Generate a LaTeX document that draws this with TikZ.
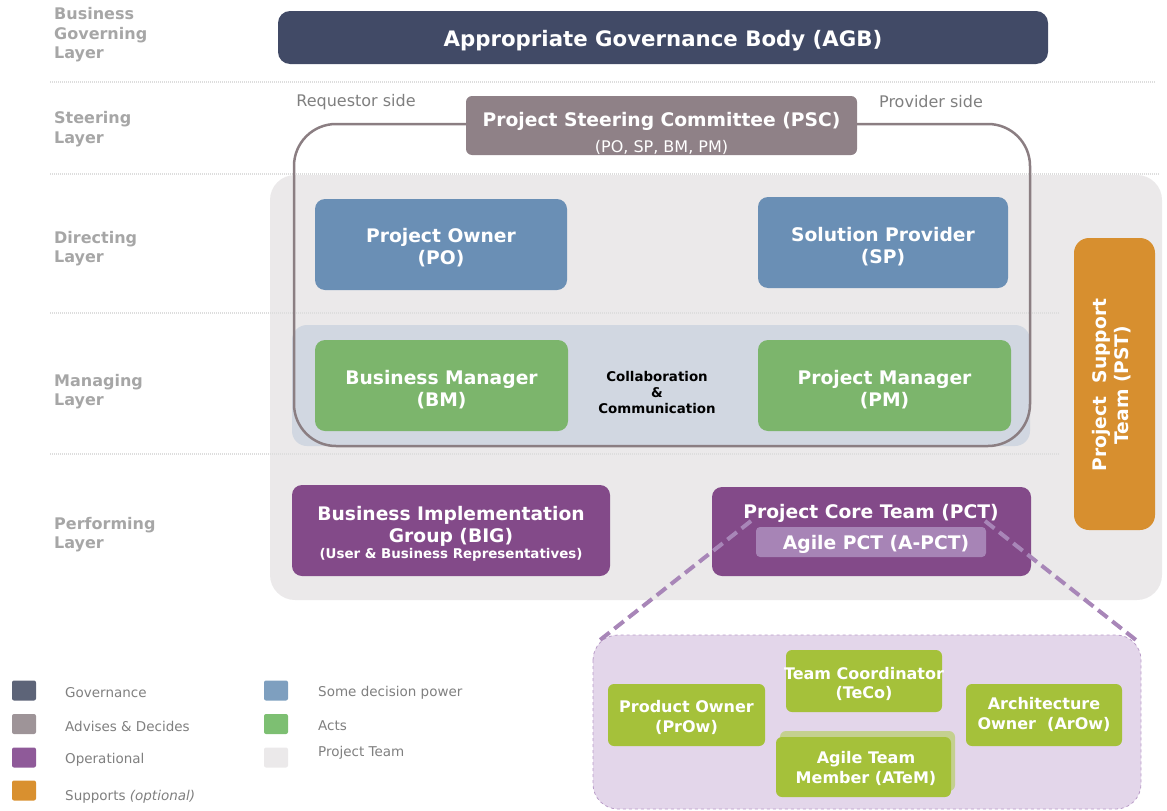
\documentclass[tikz,border=0pt]{standalone}
\usepackage{fontspec}
\setmainfont{DejaVu Sans}
\definecolor{agbc}{HTML}{414A66}
\definecolor{pscc}{HTML}{8F8187}
\definecolor{outl}{HTML}{8B7E82}
\definecolor{bluec}{HTML}{6A8FB5}
\definecolor{greenc}{HTML}{7CB56C}
\definecolor{bandc}{HTML}{D1D7E1}
\definecolor{teamc}{HTML}{EBE9EA}
\definecolor{orangec}{HTML}{D78F2F}
\definecolor{purplec}{HTML}{834A89}
\definecolor{lpurple}{HTML}{A784B6}
\definecolor{zoomc}{HTML}{E3D6EA}
\definecolor{zoomb}{HTML}{B99CC8}
\definecolor{dashc}{HTML}{A886B8}
\definecolor{limec}{HTML}{A5C13A}
\definecolor{limeb}{HTML}{C4D08F}
\definecolor{laygray}{HTML}{A6A6A6}
\definecolor{txtgray}{HTML}{7F7F7F}
\definecolor{sepgray}{HTML}{DDDDDD}
\definecolor{lgov}{HTML}{5D6478}
\definecolor{ladv}{HTML}{9E9498}
\definecolor{lops}{HTML}{8F5A99}
\definecolor{lsup}{HTML}{D9902F}
\definecolor{ldec}{HTML}{7E9FBF}
\definecolor{lact}{HTML}{7DBF72}
\begin{document}
\begin{tikzpicture}[x=1pt,y=-1pt,
  box/.style={rounded corners=10pt, inner sep=0pt},
  btxt/.style={text=white, align=center, inner sep=0pt,
    font=\bfseries\fontsize{18.7}{22}\selectfont},
  gtxt/.style={text=white, align=center, inner sep=0pt,
    font=\bfseries\fontsize{16}{19.5}\selectfont},
  lbox/.style={rounded corners=6pt, inner sep=0pt},
  layer/.style={anchor=west, align=left, text=laygray, inner sep=0pt,
    font=\bfseries\fontsize{16}{19.5}\selectfont},
  sepline/.style={sepgray, line width=1.5pt, dash pattern=on 1pt off 1pt},
  legsq/.style={rounded corners=2pt, minimum width=24pt, minimum height=20pt, inner sep=0pt},
  legtxt/.style={anchor=west, text=txtgray, inner sep=0pt, font=\fontsize{13.5}{16}\selectfont},
  side/.style={text=txtgray, inner sep=0pt, font=\fontsize{16}{19}\selectfont},
  zoomline/.style={dashc, line width=4pt, dash pattern=on 12pt off 6pt},
]
\useasboundingbox (0,0) rectangle (1167,811);

% project team background
\fill[teamc, rounded corners=25pt] (270,175) rectangle (1162,600);

% separators
\draw[sepline] (50,82) -- (1155,82);
\draw[sepline] (50,174) -- (1160,174);
\draw[sepline] (50,313) -- (1060,313);
\draw[sepline] (50,454) -- (1060,454);

% layer labels
\node[layer] (l1) at (54,35) {Business\\Governing\\Layer};
\node[layer] (l2) at (54,129) {Steering\\Layer};
\node[layer] (l3) at (54,248.5) {Directing\\Layer};
\node[layer] (l4) at (54,391.5) {Managing\\Layer};
\node[layer] (l5) at (54,534.5) {Performing\\Layer};

% managing band
\fill[bandc, rounded corners=15pt] (292,325) rectangle (1030,446);

% PSC outline
\draw[outl, line width=2.5pt, rounded corners=42pt] (294,124) rectangle (1030,446);

% AGB
\node[box, fill=agbc, minimum width=770pt, minimum height=53pt, rounded corners=12pt] (agb) at (663,37.5) {};
\node[btxt, font=\bfseries\fontsize{21.3}{25}\selectfont] (agbt) at (663,40.5) {Appropriate Governance Body (AGB)};

% sides
\node[side] (req) at (356,102) {Requestor side};
\node[side] (prov) at (931,102) {Provider side};

% PSC
\node[box, fill=pscc, minimum width=391pt, minimum height=59pt, rounded corners=6pt] (psc) at (661.5,125.5) {};
\node[btxt] (psct) at (661.5,121) {Project Steering Committee (PSC)};
\node[text=white, inner sep=0pt, font=\fontsize{16}{19}\selectfont] (pscs) at (661.5,147.5) {(PO, SP, BM, PM)};

% directing
\node[box, fill=bluec, minimum width=252pt, minimum height=91pt] (po) at (441,244.5) {};
\node[btxt] (pot) at (441,248) {Project Owner\\(PO)};
\node[box, fill=bluec, minimum width=250pt, minimum height=91pt] (sp) at (883,242.5) {};
\node[btxt] (spt) at (883,246.5) {Solution Provider\\(SP)};

% managing
\node[box, fill=greenc, minimum width=253pt, minimum height=91pt] (bm) at (441.5,385.5) {};
\node[btxt] (bmt) at (441.5,390) {Business Manager\\(BM)};
\node[box, fill=greenc, minimum width=253pt, minimum height=91pt] (pm) at (884.5,385.5) {};
\node[btxt] (pmt) at (884.5,390) {Project Manager\\(PM)};
\node[align=center, inner sep=0pt, font=\bfseries\fontsize{13.4}{16}\selectfont] (cc) at (657,392) {Collaboration\\\&\\Communication};

% PST
\node[box, fill=orangec, minimum width=81pt, minimum height=292pt, rounded corners=15pt] (pst) at (1114.5,384) {};
\node[btxt, rotate=90] (pstt) at (1112,385) {Project\ \ Support\\Team (PST)};

% performing
\node[box, fill=purplec, minimum width=318pt, minimum height=91pt] (big) at (451,530.5) {};
\node[btxt] (bigt) at (451,526) {Business Implementation\\Group (BIG)};
\node[text=white, inner sep=0pt, font=\bfseries\fontsize{13.4}{16}\selectfont] (bigs) at (451,555) {(User \& Business Representatives)};

\node[box, fill=purplec, minimum width=319pt, minimum height=89pt] (pct) at (871.5,531.5) {};
\node[btxt] (pctt) at (871,513) {Project Core Team (PCT)};

% zoom box
\draw[zoomb, fill=zoomc, dashed, line width=0.8pt, rounded corners=25pt] (593,635) rectangle (1141,809);
\coordinate (zl) at (600,640);
\coordinate (zr) at (1136,640);
\coordinate (pl) at (751,521);
\coordinate (pr) at (985,521);
\draw[zoomline] (pl) -- (zl);
\draw[zoomline] (pr) -- (zr);

\node[box, fill=lpurple, minimum width=230pt, minimum height=30pt, rounded corners=4pt] (apct) at (871,542) {};
\node[btxt] (apctt) at (876,544) {Agile PCT (A-PCT)};

% agile team
\node[lbox, fill=limec, minimum width=157pt, minimum height=62pt] (prow) at (686.5,715) {};
\node[gtxt] (prowt) at (686.5,717.5) {Product Owner\\(PrOw)};
\node[lbox, fill=limec, minimum width=156pt, minimum height=62pt] (teco) at (864,681) {};
\node[gtxt] (tecot) at (864,684) {Team Coordinator\\(TeCo)};
\node[lbox, fill=limec, minimum width=156pt, minimum height=62pt] (arow) at (1044,715) {};
\node[gtxt] (arowt) at (1044,714.5) {Architecture\\Owner\ \ (ArOw)};
\node[lbox, fill=limeb, minimum width=175pt, minimum height=60pt] (atemb) at (867.5,761) {};
\node[lbox, fill=limec, minimum width=175pt, minimum height=60pt] (atem) at (863.5,767) {};
\node[gtxt] (atemt) at (866,768.5) {Agile Team\\Member (ATeM)};

% legend
\node[legsq, fill=lgov] (sq1) at (24,690.5) {};
\node[legsq, fill=ladv] (sq2) at (24,724) {};
\node[legsq, fill=lops] (sq3) at (24,757.5) {};
\node[legsq, fill=lsup] (sq4) at (24,790.5) {};
\node[legsq, fill=ldec] (sq5) at (276,690.5) {};
\node[legsq, fill=lact] (sq6) at (276,724) {};
\node[legsq, fill=teamc] (sq7) at (276,757.5) {};
\node[legtxt] (t1) at (65,693) {Governance};
\node[legtxt] (t2) at (65,726) {Advises \& Decides};
\node[legtxt] (t3) at (65,760) {Operational};
\node[legtxt] (t4) at (65,797) {Supports \textit{(optional)}};
\node[legtxt] (t5) at (318,693) {Some decision power};
\node[legtxt] (t6) at (318,726) {Acts};
\node[legtxt] (t7) at (318,753) {Project Team};
\end{tikzpicture}
\end{document}
